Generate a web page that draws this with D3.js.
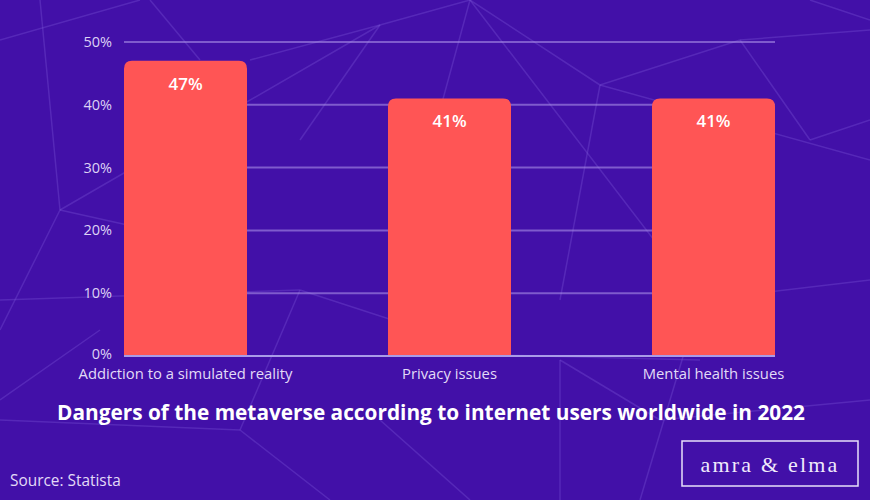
<!DOCTYPE html>
<html><head><meta charset="utf-8">
<script src="https://cdn.jsdelivr.net/npm/d3@7"></script>
<style>html,body{margin:0;padding:0;background:#4210a8;}svg{display:block;}</style>
</head><body>
<svg id="chart" width="870" height="500"></svg>
<script>
const categories = ["Addiction to a simulated reality", "Privacy issues", "Mental health issues"];
const values = [47, 41, 41];
const yTicks = [0, 10, 20, 30, 40, 50];
const title = "Dangers of the metaverse according to internet users worldwide in 2022";
const source = "Source: Statista";

const W = 870, H = 500;
const svg = d3.select("#chart");
svg.append("rect").attr("width", W).attr("height", H).attr("fill", "#4210a8");

// decorative low-poly background lines
const deco = [
  [[0,40],[140,0]],[[40,0],[60,210]],[[60,210],[0,330]],[[60,210],[380,25]],[[380,25],[470,0]],
  [[470,0],[600,85]],[[470,0],[440,110]],[[380,25],[300,140]],[[600,85],[740,40]],[[740,40],[870,30]],
  [[740,40],[810,140]],[[810,140],[870,120]],[[600,85],[870,160]],[[470,0],[700,300]],[[700,300],[870,280]],
  [[0,300],[300,290]],[[300,290],[500,355]],[[500,355],[700,360]],[[300,290],[240,430]],[[240,430],[330,500]],
  [[0,420],[240,430]],[[560,360],[560,500]],[[560,360],[660,420]],[[660,420],[870,400]],[[150,0],[200,60]],
  [[810,0],[870,20]],[[600,85],[560,300]],[[250,60],[380,25]],[[100,330],[0,400]],[[380,420],[470,500]],
  [[700,300],[640,500]],[[60,210],[150,230]]
];
svg.append("g").selectAll("line").data(deco).join("line")
  .attr("x1", d => d[0][0]).attr("y1", d => d[0][1])
  .attr("x2", d => d[1][0]).attr("y2", d => d[1][1])
  .attr("stroke", "#7a55d6").attr("stroke-opacity", 0.35).attr("stroke-width", 1.5);

const x = d3.scaleBand().domain(categories).range([124, 775]).paddingInner(0.534).paddingOuter(0);
const y = d3.scaleLinear().domain([0, 50]).range([356, 42]);

// gridlines
const grid = svg.append("g");
grid.selectAll("line").data(yTicks.filter(t => t > 0)).join("line")
  .attr("x1", 124).attr("x2", 775)
  .attr("y1", d => y(d)).attr("y2", d => y(d))
  .attr("stroke", "#a88ee6").attr("stroke-opacity", 0.6).attr("stroke-width", 2);

// y tick labels
svg.append("g").selectAll("text").data(yTicks).join("text")
  .attr("x", 112).attr("y", d => y(d) - (d === 0 ? 2 : 0)).attr("dy", "0.35em")
  .attr("text-anchor", "end")
  .attr("font-family", "Open Sans").attr("font-size", 14.5).attr("fill", "#ddd3f5")
  .text(d => d + "%");

// bars with rounded top corners
const r = 8;
svg.append("g").selectAll("path").data(values).join("path")
  .attr("d", (v, i) => {
    const x0 = x(categories[i]), w = x.bandwidth(), y0 = y(v), y1 = y(0);
    return `M${x0},${y1}V${y0 + r}Q${x0},${y0} ${x0 + r},${y0}H${x0 + w - r}Q${x0 + w},${y0} ${x0 + w},${y0 + r}V${y1}Z`;
  })
  .attr("fill", "#ff5555");

// baseline
svg.append("line").attr("x1", 124).attr("x2", 775).attr("y1", y(0)).attr("y2", y(0))
  .attr("stroke", "#a99be8").attr("stroke-width", 2);

// value labels
svg.append("g").selectAll("text").data(values).join("text")
  .attr("x", (v, i) => x(categories[i]) + x.bandwidth() / 2)
  .attr("y", v => y(v) + 23).attr("dy", "0.35em")
  .attr("text-anchor", "middle")
  .attr("font-family", "Open Sans").attr("font-weight", 600).attr("font-size", 17).attr("fill", "#ffffff")
  .text(v => v + "%");

// category labels
svg.append("g").selectAll("text").data(categories).join("text")
  .attr("x", d => x(d) + x.bandwidth() / 2).attr("y", 374).attr("dy", "0.35em")
  .attr("text-anchor", "middle")
  .attr("font-family", "Open Sans").attr("font-size", 14.8).attr("fill", "#e2dbf7")
  .text(d => d);

// title
svg.append("text").attr("x", 431).attr("y", 413).attr("dy", "0.35em")
  .attr("text-anchor", "middle")
  .attr("font-family", "Open Sans").attr("font-weight", 700).attr("font-size", 20.8).attr("fill", "#ffffff")
  .attr("textLength", 748).attr("lengthAdjust", "spacingAndGlyphs")
  .text(title);

// source
svg.append("text").attr("x", 10).attr("y", 481).attr("dy", "0.35em")
  .attr("font-family", "Open Sans").attr("font-size", 15.4).attr("fill", "#e2dbf7")
  .text(source);

// logo
svg.append("rect").attr("x", 682).attr("y", 441).attr("width", 176).attr("height", 45)
  .attr("fill", "none").attr("stroke", "#e8e0fa").attr("stroke-width", 1.5);
svg.append("text").attr("x", 770).attr("y", 464).attr("dy", "0.35em")
  .attr("text-anchor", "middle")
  .attr("font-family", "Liberation Serif").attr("font-size", 22).attr("letter-spacing", 2.2).attr("fill", "#f0eafc")
  .text("amra & elma");
</script>
</body></html>
